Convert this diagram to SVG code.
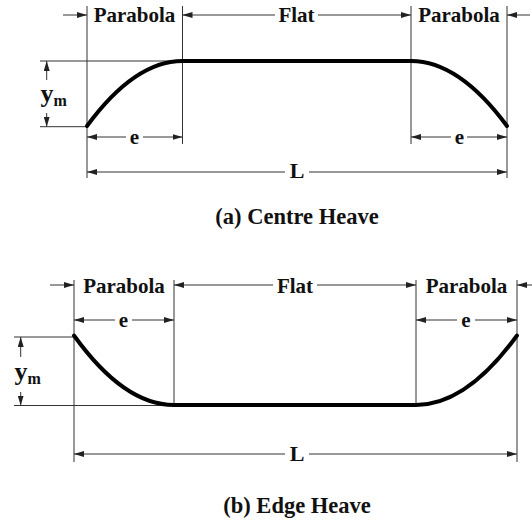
<svg xmlns="http://www.w3.org/2000/svg" width="532" height="525" viewBox="0 0 532 525">
<defs>
<marker id="ah" viewBox="0 0 10 6" refX="10" refY="3" markerWidth="10" markerHeight="6" markerUnits="userSpaceOnUse" orient="auto-start-reverse">
<path d="M0,0 L10,3 L0,6 Z" fill="#222"/>
</marker>
</defs>
<style>
.thin{stroke:#333;stroke-width:1;fill:none}
.dim{stroke:#333;stroke-width:1;fill:none}
.s{marker-start:url(#ah)}
.e{marker-end:url(#ah)}
.prof{stroke:#000;stroke-width:4;fill:none;stroke-linecap:round;stroke-linejoin:round}
text{font-family:"Liberation Serif","Times New Roman",serif;font-weight:bold;fill:#111}
.lab{font-size:21px;text-anchor:middle}
.cap{font-size:22.5px;text-anchor:middle}
.big{font-size:22px;text-anchor:middle}
.y{font-size:26px}
.m{font-size:16px}
</style>
<rect width="532" height="525" fill="#fff"/>

<!-- (a) Centre Heave -->
<g id="centre-heave">
<g id="a-extension-lines">
<line class="thin" x1="87" y1="6" x2="87" y2="178"/>
<line class="thin" x1="182.5" y1="6" x2="182.5" y2="144"/>
<line class="thin" x1="411" y1="6" x2="411" y2="144"/>
<line class="thin" x1="507" y1="6" x2="507" y2="178"/>
<line class="thin" x1="40" y1="61" x2="182.5" y2="61"/>
<line class="thin" x1="40" y1="126.7" x2="87" y2="126.7"/>
</g>
<g id="a-profile">
<path class="prof" d="M87,126 Q134.75,61 182.5,61 L411,61 Q459,61 507,126"/>
</g>
<g id="a-connectors">
<line class="dim e" x1="63" y1="15" x2="87" y2="15"/>
<line class="dim s" x1="182.5" y1="15" x2="275" y2="15"/>
<line class="dim e" x1="318" y1="15" x2="411" y2="15"/>
<line class="dim e" x1="530" y1="15" x2="507" y2="15"/>
<line class="dim s" x1="87" y1="137" x2="126" y2="137"/>
<line class="dim e" x1="143" y1="137" x2="182.5" y2="137"/>
<line class="dim s" x1="411" y1="137" x2="451" y2="137"/>
<line class="dim e" x1="467" y1="137" x2="507" y2="137"/>
<line class="dim s" x1="87" y1="172" x2="285" y2="172"/>
<line class="dim e" x1="309" y1="172" x2="507" y2="172"/>
<line class="dim e" x1="46.7" y1="80" x2="46.7" y2="61"/>
<line class="dim e" x1="46.7" y1="113" x2="46.7" y2="126.7"/>
</g>
<g id="a-labels">
<text class="lab" x="134.5" y="22">Parabola</text>
<text class="lab" x="296.5" y="22">Flat</text>
<text class="lab" x="459" y="22">Parabola</text>
<text class="lab" x="134.5" y="144">e</text>
<text class="lab" x="459.5" y="144">e</text>
<text class="big" x="297" y="178">L</text>
<text x="40.5" y="102"><tspan class="y">y</tspan><tspan class="m" dy="4">m</tspan></text>
<text class="cap" x="297" y="224">(a) Centre Heave</text>
</g>
</g>

<!-- (b) Edge Heave -->
<g id="edge-heave">
<g id="b-extension-lines">
<line class="thin" x1="74" y1="280" x2="74" y2="462"/>
<line class="thin" x1="174" y1="280" x2="174" y2="406"/>
<line class="thin" x1="416" y1="280" x2="416" y2="405"/>
<line class="thin" x1="517" y1="280" x2="517" y2="462"/>
<line class="thin" x1="14" y1="337" x2="74" y2="337"/>
<line class="thin" x1="14" y1="405.5" x2="174" y2="405.5"/>
</g>
<g id="b-profile">
<path class="prof" d="M74,335.5 Q124,405 174,405 L416,405 Q466.5,405 517,335.5"/>
</g>
<g id="b-connectors">
<line class="dim e" x1="50" y1="285" x2="74" y2="285"/>
<line class="dim s" x1="174" y1="285" x2="273" y2="285"/>
<line class="dim e" x1="317" y1="285" x2="416" y2="285"/>
<line class="dim e" x1="532" y1="285" x2="517" y2="285"/>
<line class="dim s" x1="74" y1="320" x2="115" y2="320"/>
<line class="dim e" x1="132" y1="320" x2="174" y2="320"/>
<line class="dim s" x1="416" y1="320" x2="457" y2="320"/>
<line class="dim e" x1="475" y1="320" x2="517" y2="320"/>
<line class="dim s" x1="74" y1="454" x2="285" y2="454"/>
<line class="dim e" x1="309" y1="454" x2="517" y2="454"/>
<line class="dim e" x1="20.7" y1="357" x2="20.7" y2="337"/>
<line class="dim e" x1="20.7" y1="392" x2="20.7" y2="405.5"/>
</g>
<g id="b-labels">
<text class="lab" x="124" y="293">Parabola</text>
<text class="lab" x="295" y="293">Flat</text>
<text class="lab" x="466.5" y="293">Parabola</text>
<text class="lab" x="123.5" y="327">e</text>
<text class="lab" x="466" y="327">e</text>
<text class="big" x="297" y="461">L</text>
<text x="14.5" y="380"><tspan class="y">y</tspan><tspan class="m" dy="4">m</tspan></text>
<text class="cap" x="297" y="513">(b) Edge Heave</text>
</g>
</g>
</svg>
